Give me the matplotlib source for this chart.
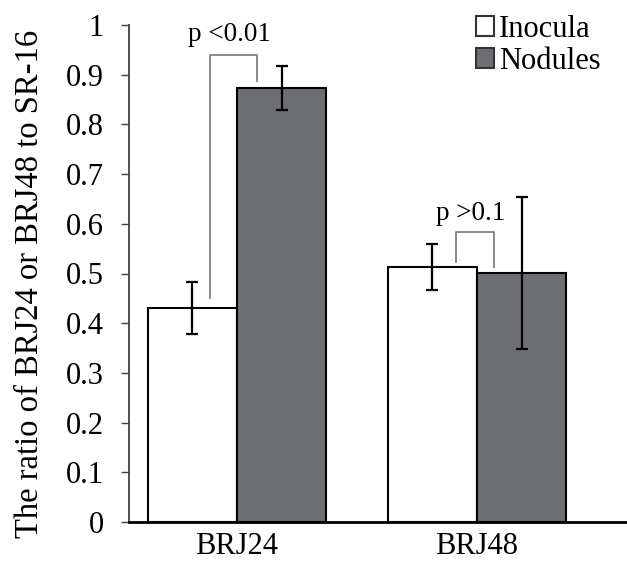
import numpy as np
import matplotlib
matplotlib.use("Agg")
import matplotlib.pyplot as plt
from matplotlib.patches import Patch

# Data
strains = ["BRJ24", "BRJ48"]
inocula = [0.431, 0.513]
inocula_err = [0.052, 0.047]
nodules = [0.873, 0.501]
nodules_err = [0.044, 0.152]
y_ticks = [0, 0.1, 0.2, 0.3, 0.4, 0.5, 0.6, 0.7, 0.8, 0.9, 1]
y_tick_labels = ["0", "0.1", "0.2", "0.3", "0.4", "0.5", "0.6", "0.7", "0.8", "0.9", "1"]

plt.rcParams['font.family'] = ['Liberation Serif', 'DejaVu Serif']
fs = 22

fig = plt.figure(figsize=(6.27, 5.63), dpi=100)
ax = fig.add_axes([129 / 627, 41 / 563, 1 - 129 / 627, 497 / 563])

x = np.arange(len(strains))
w = 0.371
ekw = dict(elinewidth=1.6, capthick=1.6, ecolor="black")
ax.bar(x - w / 2, inocula, w, yerr=inocula_err, capsize=4.5,
       color="white", edgecolor="black", linewidth=1.5, error_kw=ekw,
       label="Inocula")
ax.bar(x + w / 2, nodules, w, yerr=nodules_err, capsize=4.5,
       color="#6d6e72", edgecolor="black", linewidth=1.5, error_kw=ekw,
       label="Nodules")

# significance brackets
br = "#808080"
ax.plot([-0.1125, -0.1125, 0.083, 0.083], [0.451, 0.94, 0.94, 0.887],
        color=br, lw=1.3)
ax.text(-0.03, 0.956, "p <0.01", ha="center", va="bottom", fontsize=19.5)
ax.plot([0.9125, 0.9125, 1.071, 1.071], [0.523, 0.584, 0.584, 0.513],
        color=br, lw=1.3)
ax.text(0.975, 0.596, "p >0.1", ha="center", va="bottom", fontsize=19.5)

ax.set_xlim(-0.45, 1.625)
ax.set_ylim(0, 1)
ax.set_xticks(x)
ax.set_xticklabels(strains, fontsize=fs)
ax.set_yticks(y_ticks)
ax.set_yticklabels(y_tick_labels, fontsize=fs)
ax.tick_params(axis="x", length=0, pad=7)
ax.tick_params(axis="y", length=6, width=1, color="#404040", pad=12)
ax.spines["top"].set_visible(False)
ax.spines["right"].set_visible(False)
ax.spines["left"].set_color("#404040")
ax.spines["bottom"].set_linewidth(2)
ax.spines["left"].set_linewidth(1.3)
ax.set_ylabel("The ratio of BRJ24 or BRJ48 to SR-16", fontsize=23.5)
ax.yaxis.set_label_coords(-0.168, 0.48)

handles = [Patch(facecolor="white", edgecolor="#333333", lw=1.5),
           Patch(facecolor="#6d6e72", edgecolor="#333333", lw=1.5)]
ax.legend(handles, ["Inocula", "Nodules"], loc="upper left",
          bbox_to_anchor=(0.672, 1.045), frameon=False, fontsize=fs,
          handlelength=0.6, handleheight=0.6, handletextpad=0.15,
          labelspacing=0.1, borderaxespad=0)

fig.savefig("out.png", dpi=100)
